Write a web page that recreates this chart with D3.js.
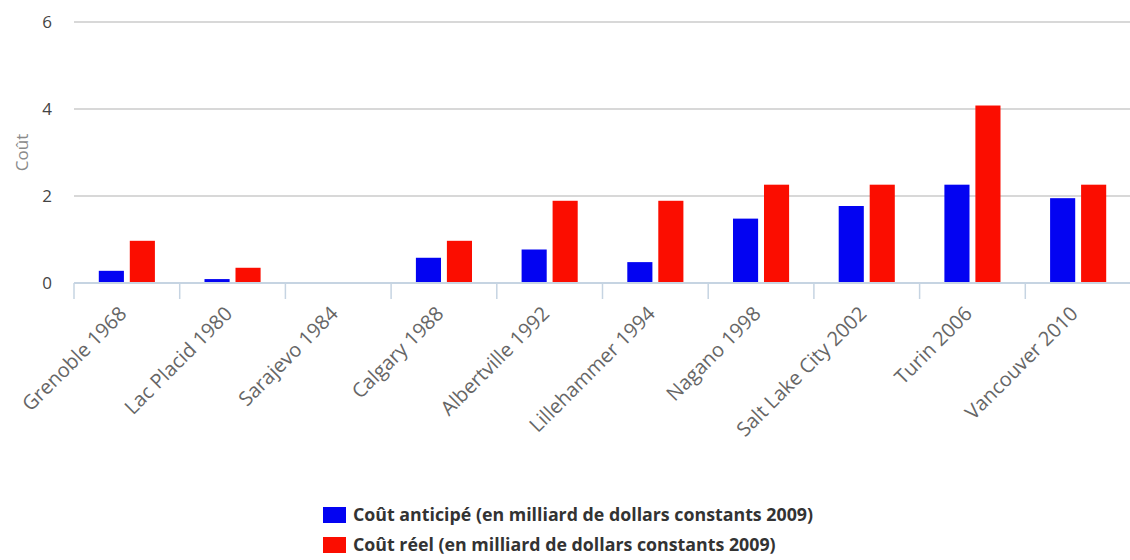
<!DOCTYPE html>
<html lang="fr">
<head>
    <meta charset="UTF-8">
    <title>Coût des Jeux olympiques d'hiver</title>
    <style>
        body {
            margin: 0;
            background-color: #fff;
            font-family: "Open Sans", sans-serif;
        }
        .grid line {
            stroke: #d8d8d8;
            stroke-width: 2px;
        }
        .x-label {
            font-size: 20px;
            fill: #666;
        }
        .y-label {
            font-size: 17px;
            fill: #444;
        }
        .legend text {
            font-size: 17.8px;
            font-weight: bold;
            fill: #333;
        }
    </style>
</head>
<body>
    <div id="chart"></div>
    <script src="https://d3js.org/d3.v7.min.js"></script>
    <script>
        // Data
        const games = ["Grenoble 1968", "Lac Placid 1980", "Sarajevo 1984", "Calgary 1988",
            "Albertville 1992", "Lillehammer 1994", "Nagano 1998", "Salt Lake City 2002",
            "Turin 2006", "Vancouver 2010"];
        const anticipated = [0.28, 0.09, 0, 0.58, 0.77, 0.48, 1.48, 1.77, 2.26, 1.95];
        const actual = [0.97, 0.35, 0, 0.97, 1.89, 1.89, 2.26, 2.26, 4.08, 2.26];
        const seriesNames = [
            "Coût anticipé (en milliard de dollars constants 2009)",
            "Coût réel (en milliard de dollars constants 2009)"
        ];
        const seriesColors = ["#0303f2", "#fb0d00"];
        const yTicks = [0, 2, 4, 6];

        const width = 1130;
        const height = 560;
        const margin = {top: 22, right: 0, bottom: 277, left: 74};

        const svg = d3.select("#chart").append("svg")
            .attr("width", width)
            .attr("height", height);

        const x0 = d3.scaleBand()
            .domain(games)
            .range([margin.left, 1131]);

        const x1 = d3.scaleBand()
            .domain([0, 1])
            .range([0, x0.bandwidth()])
            .paddingInner(0.19)
            .paddingOuter(0.8);

        const y = d3.scaleLinear()
            .domain([0, 6])
            .range([height - margin.bottom, margin.top]);

        // Gridlines
        svg.append("g")
            .attr("class", "grid")
            .selectAll("line")
            .data(yTicks.filter(d => d > 0))
            .enter().append("line")
            .attr("x1", margin.left)
            .attr("x2", width)
            .attr("y1", d => y(d))
            .attr("y2", d => y(d));

        // Y tick labels
        svg.append("g")
            .selectAll("text")
            .data(yTicks)
            .enter().append("text")
            .attr("class", "y-label")
            .attr("x", 52)
            .attr("y", d => y(d))
            .attr("dy", "0.35em")
            .attr("text-anchor", "end")
            .text(d => d);

        // Axis title
        svg.append("text")
            .attr("transform", `translate(28,${(y(0) + y(6)) / 2}) rotate(-90)`)
            .attr("text-anchor", "middle")
            .attr("font-size", "17px")
            .attr("fill", "#8a8a8a")
            .text("Coût");

        // Bars
        const groups = svg.append("g")
            .selectAll("g")
            .data(games.map((g, i) => ({game: g, values: [anticipated[i], actual[i]]})))
            .enter().append("g")
            .attr("transform", d => `translate(${x0(d.game)},0)`);

        groups.selectAll("rect")
            .data(d => d.values.map((v, k) => ({k: k, v: v})))
            .enter().append("rect")
            .attr("x", d => x1(d.k))
            .attr("width", x1.bandwidth())
            .attr("y", d => y(d.v))
            .attr("height", d => y(0) - y(d.v))
            .attr("fill", d => seriesColors[d.k]);

        // X axis line and ticks
        const xAxis = svg.append("g");
        xAxis.append("line")
            .attr("x1", margin.left)
            .attr("x2", width)
            .attr("y1", y(0))
            .attr("y2", y(0))
            .attr("stroke", "#c6d4e2")
            .attr("stroke-width", 2);

        xAxis.selectAll(".tick")
            .data(games)
            .enter().append("line")
            .attr("x1", d => x0(d))
            .attr("x2", d => x0(d))
            .attr("y1", y(0))
            .attr("y2", y(0) + 16)
            .attr("stroke", "#c6d4e2")
            .attr("stroke-width", 1.5);

        xAxis.selectAll(".x-label")
            .data(games)
            .enter().append("text")
            .attr("class", "x-label")
            .attr("text-anchor", "end")
            .attr("transform", d => `translate(${x0(d) + x0.bandwidth() / 2 + 1},${y(0) + 32}) rotate(-45)`)
            .text(d => d);

        // Legend
        const legend = svg.append("g")
            .attr("class", "legend")
            .selectAll("g")
            .data(seriesNames)
            .enter().append("g")
            .attr("transform", (d, i) => `translate(323,${507 + i * 30})`);

        legend.append("rect")
            .attr("width", 23)
            .attr("height", 16)
            .attr("fill", (d, i) => seriesColors[i]);

        legend.append("text")
            .attr("x", 30)
            .attr("y", 14)
            .text(d => d);
    </script>
</body>
</html>
